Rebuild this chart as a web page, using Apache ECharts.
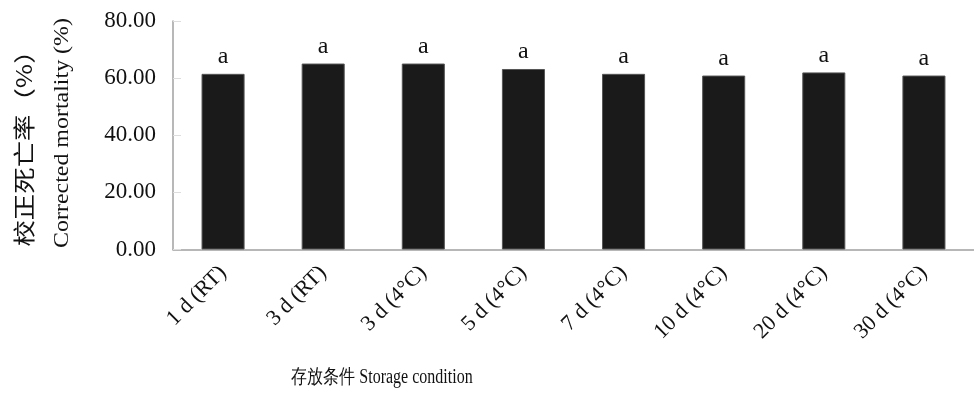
<!DOCTYPE html>
<html><head><meta charset="utf-8">
<script src="https://cdn.jsdelivr.net/npm/echarts@6/dist/echarts.min.js"></script>
<style>html,body{margin:0;padding:0;background:#fff}#c{width:974px;height:396px}</style>
</head><body><div id="c"></div>
<script>
const categories = ['1 d (RT)', '3 d (RT)', '3 d (4°C)', '5 d (4°C)', '7 d (4°C)', '10 d (4°C)', '20 d (4°C)', '30 d (4°C)'];
const mortality = [61.5, 65.1, 65.1, 63.2, 61.5, 60.9, 62.0, 60.9];
const letters = ['a', 'a', 'a', 'a', 'a', 'a', 'a', 'a'];
const yTicks = [0, 20, 40, 60, 80];
const yTitleCn = '校正死亡率（%）';
const yTitleEn = 'Corrected mortality (%)';
const xTitle = '存放条件 Storage condition';

const serif = '"Liberation Serif", "Times New Roman", serif';
const chart = echarts.init(document.getElementById('c'), null, {renderer: 'canvas'});
chart.setOption({
  animation: false,
  backgroundColor: '#fff',
  grid: {left: 173, top: 21, width: 812, height: 228.5},
  xAxis: {
    type: 'category', data: categories,
    axisLine: {lineStyle: {color: '#a0a0a0', width: 1.5}},
    axisTick: {inside: true, length: 8, lineStyle: {color: '#ddd'}},
    axisLabel: {rotate: 45, interval: 0, margin: 20, color: '#111', fontFamily: serif, fontSize: 22}
  },
  yAxis: {
    type: 'value', min: yTicks[0], max: yTicks[yTicks.length - 1], interval: 20,
    axisLine: {show: true, lineStyle: {color: '#a0a0a0', width: 1.5}},
    axisTick: {show: true, inside: true, length: 8, lineStyle: {color: '#ddd'}},
    splitLine: {show: false},
    axisLabel: {formatter: v => v.toFixed(2), color: '#111', fontFamily: serif, fontSize: 23, margin: 17}
  },
  graphic: [
    {type: 'text', x: 24, y: 142, rotation: Math.PI / 2, scaleX: 1.2,
     style: {text: yTitleCn, fill: '#111', fontFamily: '"Noto Sans CJK SC"', fontSize: 22, align: 'center', verticalAlign: 'middle'}},
    {type: 'text', x: 62, y: 133, rotation: Math.PI / 2, scaleX: 1.14,
     style: {text: yTitleEn, fill: '#111', fontFamily: serif, fontSize: 21, align: 'center', verticalAlign: 'middle'}},
    {type: 'text', x: 382, y: 378, scaleX: 0.8,
     style: {text: xTitle, fill: '#111', fontFamily: serif, fontSize: 20, align: 'center', verticalAlign: 'middle'}}
  ],
  series: [{
    type: 'bar', data: mortality, barWidth: '43%',
    itemStyle: {color: '#1a1a1a', borderColor: '#555', borderWidth: 1},
    label: {show: true, position: 'top', distance: 5, formatter: p => letters[p.dataIndex],
            color: '#111', fontFamily: serif, fontSize: 24}
  }]
});
</script></body></html>
